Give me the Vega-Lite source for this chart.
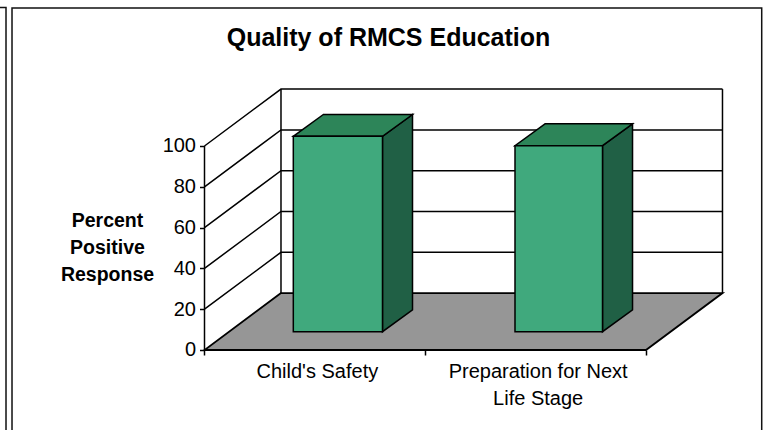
{
"$schema":"https://vega.github.io/schema/vega-lite/v6.json",
"width":768,"height":430,"padding":0,
"autosize":"none",
"background":"white",
"config":{"view":{"stroke":null},"font":"Liberation Sans"},
"title":{"text":"Quality of RMCS Education","font":"Liberation Sans","fontSize":25,"fontWeight":"bold","color":"#000","anchor":"middle","frame":"group","dx":4.5,"offset":-51},
"data":{"values":[
{"part":"frame","series":"a","o":1,"x":-0.9264,"y":167.9},
{"part":"frame","series":"a","o":2,"x":-0.8992,"y":167.9},
{"part":"frame","series":"a","o":3,"x":-0.8992,"y":-39.22},
{"part":"frame","series":"b","o":1,"x":-0.872,"y":-39.22},
{"part":"frame","series":"b","o":2,"x":-0.872,"y":167.65},
{"part":"frame","series":"b","o":3,"x":2.5242,"y":167.65},
{"part":"frame","series":"b","o":4,"x":2.5242,"y":-39.22},
{"part":"grid","series":"20","o":1,"x":0,"y":20},{"part":"grid","series":"20","o":2,"x":0.3465,"y":47.9},{"part":"grid","series":"20","o":3,"x":2.3465,"y":47.9},
{"part":"grid","series":"40","o":1,"x":0,"y":40},{"part":"grid","series":"40","o":2,"x":0.3465,"y":67.9},{"part":"grid","series":"40","o":3,"x":2.3465,"y":67.9},
{"part":"grid","series":"60","o":1,"x":0,"y":60},{"part":"grid","series":"60","o":2,"x":0.3465,"y":87.9},{"part":"grid","series":"60","o":3,"x":2.3465,"y":87.9},
{"part":"grid","series":"80","o":1,"x":0,"y":80},{"part":"grid","series":"80","o":2,"x":0.3465,"y":107.9},{"part":"grid","series":"80","o":3,"x":2.3465,"y":107.9},
{"part":"grid","series":"100","o":1,"x":0,"y":100},{"part":"grid","series":"100","o":2,"x":0.3465,"y":127.9},{"part":"grid","series":"100","o":3,"x":2.3465,"y":127.9},
{"part":"grid","series":"front","o":1,"x":0,"y":0},{"part":"grid","series":"front","o":2,"x":0,"y":100},
{"part":"grid","series":"backL","o":1,"x":0.3465,"y":27.9},{"part":"grid","series":"backL","o":2,"x":0.3465,"y":127.9},
{"part":"grid","series":"backR","o":1,"x":2.3465,"y":27.9},{"part":"grid","series":"backR","o":2,"x":2.3465,"y":127.9},
{"part":"floor","x":0,"x2":2,"y":0},
{"part":"floor","x":0.3465,"x2":2.3465,"y":27.9},
{"part":"top","series":"Child's Safety","x":0.4023,"x2":0.8063,"y":104.75},
{"part":"top","series":"Child's Safety","x":0.5383,"x2":0.9423,"y":115.45},
{"part":"top","series":"Preparation","x":1.4066,"x2":1.803,"y":100.15},
{"part":"top","series":"Preparation","x":1.5426,"x2":1.939,"y":110.85},
{"part":"side","series":"Child's Safety","x":0.8063,"y":104.75,"y2":8.97},
{"part":"side","series":"Child's Safety","x":0.9423,"y":115.45,"y2":19.67},
{"part":"side","series":"Preparation","x":1.803,"y":100.15,"y2":8.97},
{"part":"side","series":"Preparation","x":1.939,"y":110.85,"y2":19.67},
{"part":"front","series":"Child's Safety","x":0.4023,"x2":0.8063,"y":104.75,"y2":8.97},
{"part":"front","series":"Preparation","x":1.4066,"x2":1.803,"y":100.15,"y2":8.97},
{"part":"label","x":0.5,"y":0,"label":"Child's Safety"},
{"part":"label","x":1.5,"y":0,"label":"Preparation for Next\nLife Stage"}
]},
"encoding":{
"x":{"field":"x","type":"quantitative","scale":{"domain":[-0.9264,2.5527],"nice":false,"zero":false},
"axis":{"orient":"bottom","offset":-80,"values":[0,1,2],"labels":false,"domain":false,"grid":false,"title":null,"tickSize":5,"tickColor":"#000","tickWidth":1.5}},
"y":{"field":"y","type":"quantitative","scale":{"domain":[-39.22,171.57],"nice":false,"zero":false},
"axis":{"orient":"left","offset":-204.5,"values":[0,20,40,60,80,100],"domain":false,"grid":false,"tickSize":5,"tickColor":"#000","tickWidth":1.5,"labelFont":"Liberation Sans","labelFontSize":20,"labelColor":"#000","labelPadding":4,
"title":["Percent","Positive","Response"],"titleAngle":0,"titleFont":"Liberation Sans","titleFontSize":19.5,"titleFontWeight":"bold","titleColor":"#000","titleAlign":"center","titleBaseline":"top","titleLineHeight":27,"titleX":-97.5,"titleY":211}}
},
"layer":[
{"transform":[{"filter":"datum.part==='frame'"}],"mark":{"type":"line","stroke":"#111","strokeWidth":1.5,"clip":false},"encoding":{"detail":{"field":"series"},"order":{"field":"o"}}},
{"transform":[{"filter":"datum.part==='floor'"}],"mark":{"type":"area","orient":"horizontal","fill":"#969696","stroke":"#000","strokeWidth":1.8},"encoding":{"x2":{"field":"x2"}}},
{"transform":[{"filter":"datum.part==='grid'"}],"mark":{"type":"line","stroke":"#000","strokeWidth":1.5},"encoding":{"detail":{"field":"series"},"order":{"field":"o"}}},
{"transform":[{"filter":"datum.part==='side'"}],"mark":{"type":"area","orient":"vertical","fill":"#206045","stroke":"#000","strokeWidth":1.5},"encoding":{"y2":{"field":"y2"},"detail":{"field":"series"}}},
{"transform":[{"filter":"datum.part==='top'"}],"mark":{"type":"area","orient":"horizontal","fill":"#2D8559","stroke":"#000","strokeWidth":1.5},"encoding":{"x2":{"field":"x2"},"detail":{"field":"series"}}},
{"transform":[{"filter":"datum.part==='front'"}],"mark":{"type":"rect","fill":"#40A97D","stroke":"#000","strokeWidth":1.5},"encoding":{"x2":{"field":"x2"},"y2":{"field":"y2"}}},
{"transform":[{"filter":"datum.part==='label'"}],"mark":{"type":"text","font":"Liberation Sans","fontSize":20,"color":"#000","baseline":"top","align":"center","dy":12.5,"dx":2.5,"lineBreak":"\n","lineHeight":26.5},"encoding":{"text":{"field":"label"}}}
]
}
